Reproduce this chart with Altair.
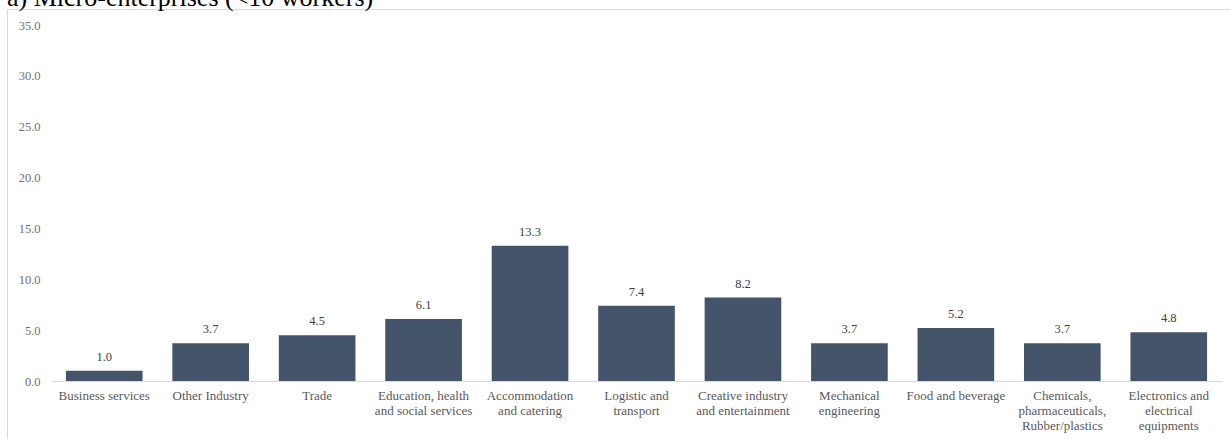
import altair as alt
import pandas as pd

title_text = "a) Micro-enterprises (<10 workers)"
categories = [
    "Business services",
    "Other Industry",
    "Trade",
    "Education, health\nand social services",
    "Accommodation\nand catering",
    "Logistic and\ntransport",
    "Creative industry\nand entertainment",
    "Mechanical\nengineering",
    "Food and beverage",
    "Chemicals,\npharmaceuticals,\nRubber/plastics",
    "Electronics and\nelectrical\nequipments",
]
values = [1.0, 3.7, 4.5, 6.1, 13.3, 7.4, 8.2, 3.7, 5.2, 3.7, 4.8]
y_ticks = [0, 5, 10, 15, 20, 25, 30, 35]

df = pd.DataFrame({"cat": categories, "val": values})
FONT = "Liberation Serif"

x = alt.X(
    "cat:N",
    sort=categories,
    scale=alt.Scale(paddingInner=0.28, paddingOuter=0.14),
    axis=alt.Axis(
        title=None,
        labelAngle=0,
        ticks=False,
        labelPadding=8,
        labelFont=FONT,
        labelFontSize=13,
        labelColor="#595959",
        labelLineHeight=15,
        labelLimit=0,
        domainColor="#d9d9d9",
        domainWidth=1,
        labelExpr="split(datum.label, '\\n')",
    ),
)
y = alt.Y(
    "val:Q",
    scale=alt.Scale(domain=[0, 35], nice=False, zero=True),
    axis=alt.Axis(
        title=None,
        values=y_ticks,
        format=".1f",
        grid=False,
        domain=False,
        ticks=False,
        labelPadding=11,
        labelFont=FONT,
        labelFontSize=12.5,
        labelColor="#6f6f6f",
    ),
)

base = alt.Chart(df)
bars = base.mark_bar(color="#44546A").encode(x=x, y=y)
labels = base.mark_text(
    font=FONT, fontSize=12.5, color="#404040", baseline="alphabetic", dy=-10
).encode(x=alt.X("cat:N", sort=categories), y="val:Q", text=alt.Text("val:Q", format=".1f"))

frame = alt.Chart(pd.DataFrame({"a": [0]})).mark_rect(
    filled=False, stroke="#d9d9d9", strokeWidth=1
).encode(
    x=alt.value(-43.5), x2=alt.value(1400), y=alt.value(-15.5), y2=alt.value(600)
)

title = alt.Chart(pd.DataFrame({"t": [title_text]})).mark_text(
    font=FONT, fontSize=26, color="#000000", align="left", baseline="alphabetic"
).encode(x=alt.value(-44), y=alt.value(-19), text="t:N")

chart = alt.layer(frame, bars, labels, title).properties(
    width=1171,
    height=356,
    autosize=alt.AutoSizeParams(type="none"),
    padding={"left": 51, "top": 25, "right": 8, "bottom": 58},
).configure_view(stroke=None)

chart.save("out.html", embed_options={"renderer": "svg", "actions": False})
